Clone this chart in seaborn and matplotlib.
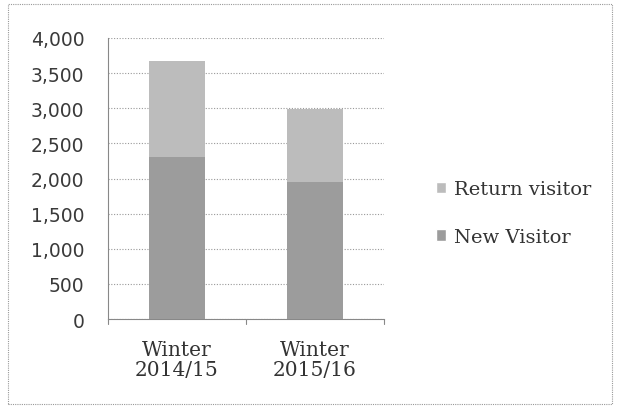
import matplotlib
matplotlib.use("Agg")
import matplotlib.pyplot as plt
import seaborn as sns
import pandas as pd
from matplotlib.patches import Patch, Rectangle

# data
seasons = ["Winter\n2014/15", "Winter\n2015/16"]
new_visitor = [2310, 1955]
return_visitor = [1365, 1035]

df = pd.DataFrame({"season": seasons, "new": new_visitor, "ret": return_visitor})
df["total"] = df["new"] + df["ret"]

sns.set_style("white")
plt.rcParams["font.family"] = ["DejaVu Sans"]

new_col = "#9c9c9c"
ret_col = "#bcbcbc"

fig = plt.figure(figsize=(6.18, 4.10), dpi=100)
ax = fig.add_axes([108 / 618, 1 - 320 / 410, 276 / 618, 281 / 410])

sns.barplot(data=df, x="season", y="total", color=ret_col, width=0.4,
            saturation=1, linewidth=0, ax=ax, zorder=2)
sns.barplot(data=df, x="season", y="new", color=new_col, width=0.4,
            saturation=1, linewidth=0, ax=ax, zorder=3)

ax.set_ylim(0, 4000)
ax.set_yticks(range(0, 4001, 500))
ax.set_yticklabels([f"{v:,}" for v in range(0, 4001, 500)], fontsize=13.5,
                   color="#3a3a3a")
ax.set_xlim(-0.5, 1.5)
ax.set_xlabel("")
ax.set_ylabel("")
ax.set_xticks([0, 1])
ax.set_xticklabels(seasons, fontsize=14.5, family="DejaVu Serif",
                   color="#333333", linespacing=1.1)
ax.tick_params(axis="x", length=0, pad=15)
ax.tick_params(axis="y", length=4, width=0.8, color="#888888", pad=13)

ax.yaxis.grid(True, linestyle=(0, (1, 1.5)), color="#999999", linewidth=0.8,
              zorder=0)
ax.set_axisbelow(True)
for side in ["top", "right"]:
    ax.spines[side].set_visible(False)
for side in ["left", "bottom"]:
    ax.spines[side].set_color("#888888")
    ax.spines[side].set_linewidth(0.8)
# category boundary ticks on x axis
for xv in [-0.5, 0.5, 1.5]:
    ax.plot([xv, xv], [0, -70], color="#888888", lw=0.8, clip_on=False)

handles = [Patch(facecolor=ret_col, label="Return visitor"),
           Patch(facecolor=new_col, label="New Visitor")]
leg = fig.legend(handles=handles, loc="center left",
                 bbox_to_anchor=(418 / 618, 1 - 214 / 410), frameon=False,
                 prop={"family": "DejaVu Serif", "size": 14},
                 handlelength=0.55, handleheight=0.55, handletextpad=0.4,
                 labelspacing=1.5)
for t in leg.get_texts():
    t.set_color("#333333")

# dotted frame around the chart
fig.patches.append(Rectangle((8 / 618, 5 / 410), 604 / 618, 400 / 410,
                             transform=fig.transFigure, fill=False,
                             edgecolor="#999999", linestyle=(0, (1, 1)),
                             linewidth=0.8))

fig.savefig("out.png", dpi=100)
